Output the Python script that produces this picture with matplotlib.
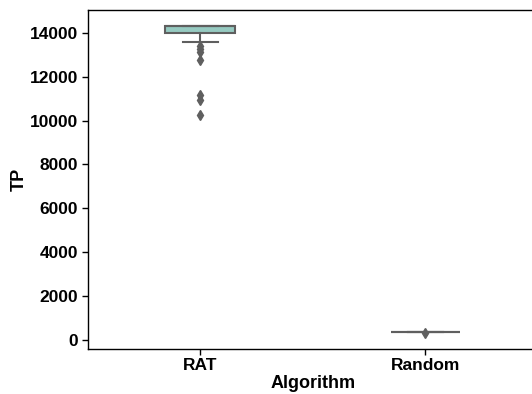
import matplotlib
matplotlib.use("Agg")
import matplotlib.pyplot as plt

# valores de TP por algoritmo
categorias = ["RAT", "Random"]
tp_rat = [10270, 10950, 11150, 12740, 13120, 13250, 13380, 13600, 13800, 13950,
          13990, 14050, 14120, 14180, 14220, 14260, 14290, 14310, 14320] + [14330] * 21
tp_random = [290, 330, 335, 338, 340, 342, 345, 348, 350]

colores = ["#96cac1", "#f5f5bc"]
gris = "#5f5f5f"

plt.rcParams["font.family"] = ["Liberation Sans", "DejaVu Sans"]
plt.rcParams["font.weight"] = "bold"

fig = plt.figure(figsize=(5.32, 3.94), dpi=100)
ax = fig.add_axes([0.1645, 0.115, 0.847, 0.859])

bp = ax.boxplot([tp_rat, tp_random], positions=[0, 1], widths=0.31,
                patch_artist=True,
                boxprops=dict(edgecolor=gris, linewidth=1.5),
                whiskerprops=dict(color=gris, linewidth=1.5),
                capprops=dict(color=gris, linewidth=1.5),
                medianprops=dict(color=gris, linewidth=1.5),
                flierprops=dict(marker="d", markerfacecolor=gris, markeredgecolor=gris,
                                markersize=5))
for caja, c in zip(bp["boxes"], colores):
    caja.set_facecolor(c)

ax.set_xlim(-0.5, 1.5)
ax.margins(y=0.05)
ax.set_xticks([0, 1])
ax.set_xticklabels(categorias)
ax.set_yticks(range(0, 15000, 2000))
ax.tick_params(axis="both", labelsize=12.5, direction="out", length=4, width=1, pad=3)
for lbl in ax.get_xticklabels() + ax.get_yticklabels():
    lbl.set_fontweight("bold")
ax.set_xlabel("Algorithm", fontsize=13, fontweight="bold", labelpad=1)
ax.set_ylabel("TP", fontsize=13, fontweight="bold", labelpad=1)
for s in ax.spines.values():
    s.set_linewidth(1)

fig.savefig("out.png", dpi=100)
